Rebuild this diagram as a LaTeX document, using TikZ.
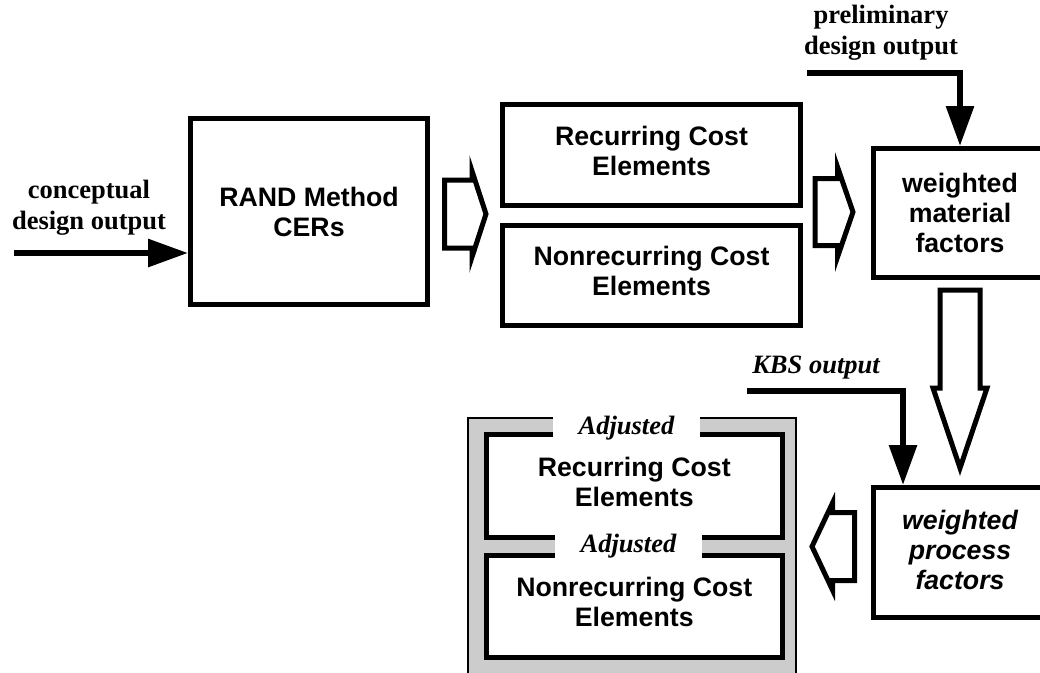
\documentclass[tikz,border=0pt]{standalone}
\usepackage{fontspec}
\setmainfont{Liberation Serif}
\setsansfont{Liberation Sans}
\usetikzlibrary{arrows.meta}

\newcommand\boxfont{\sffamily\bfseries\fontsize{26.7}{30}\selectfont}
\newcommand\lblfont{\rmfamily\bfseries\fontsize{26.5}{31}\selectfont}

\begin{document}
\begin{tikzpicture}[x=1pt,y=-1pt,
	box/.style={draw,line width=5pt,inner sep=0pt,align=center,font=\boxfont},
	costbox/.style={box,minimum width=298pt,text depth=9pt},
	lbl/.style={inner sep=0pt,align=center,font=\lblfont},
	patch/.style={fill=white,inner sep=0pt,font=\lblfont\itshape},
	feed/.style={line width=6pt,-{Triangle[length=40pt,width=27pt]}},
	hollow/.style={line width=5pt,fill=white,line join=miter}]
	\useasboundingbox (0,0) rectangle (1040,672);
	% first stage
	\node[box,minimum width=237pt,minimum height=186pt] (rand) at (309,211.5) {RAND Method\\CERs};
	\node[costbox,minimum height=101pt] (rce) at (651.5,155) {Recurring Cost\\Elements};
	\node[costbox,minimum height=100pt] (nce) at (651.5,275.5) {Nonrecurring Cost\\Elements};
	\node[box,minimum width=174pt,minimum height=129pt] (wmf) at (960,213) {weighted\\material\\factors};
	\node[box,font=\boxfont\itshape,text depth=6pt,minimum width=174pt,minimum height=130pt] (wpf) at (960,552.5) {weighted\\process\\factors};
	% adjusted elements
	\filldraw[fill=black!20,line width=1.5pt] (468,418) rectangle (796,700);
	\node[costbox,fill=white,minimum width=296.5pt,minimum height=103pt] (arce) at (634.25,486) {Recurring Cost\\Elements};
	\node[costbox,fill=white,minimum width=296.5pt,minimum height=102pt] (ance) at (634.25,606.5) {Nonrecurring Cost\\Elements};
	\node[patch,minimum width=147pt,minimum height=24pt] (adj1) at (626.5,428) {Adjusted};
	\node[patch,minimum width=147pt,minimum height=27pt] (adj2) at (628.5,546.5) {Adjusted};
	% inputs
	\node[lbl] (clbl) at (89,208) {conceptual\\design output};
	\node[lbl] (plbl) at (881,33) {preliminary\\design output};
	\node[lbl,font=\lblfont\itshape] (klbl) at (816,368) {KBS output};
	\path
	(14,253) coordinate (cin)
	(807,73) coordinate (pin)
	(747,391) coordinate (kin)
	(903,391) coordinate (kturn)
	;
	\draw[feed] (cin) -- (cin -| rand.west);
	\draw[feed] (pin) -| (wmf.north);
	\draw[feed] (kin) -- (kturn) -- (kturn |- wpf.north);
	% block arrows
	\draw[hollow] (444.5,180) -- (472,180) -- (472,171) -- (486,214) -- (472,257) -- (472,248) -- (444.5,248) -- cycle;
	\draw[hollow] (815,178.5) -- (837.5,178.5) -- (837.5,167) -- (853,212) -- (837.5,257) -- (837.5,245.5) -- (815,245.5) -- cycle;
	\draw[hollow] (940,290) -- (980,290) -- (980,388) -- (987,388) -- (960,468) -- (933,388) -- (940,388) -- cycle;
	\draw[hollow] (854.5,512.5) -- (832.5,512.5) -- (832.5,503) -- (812,546.5) -- (832.5,590) -- (832.5,580.5) -- (854.5,580.5) -- cycle;
\end{tikzpicture}
\end{document}
